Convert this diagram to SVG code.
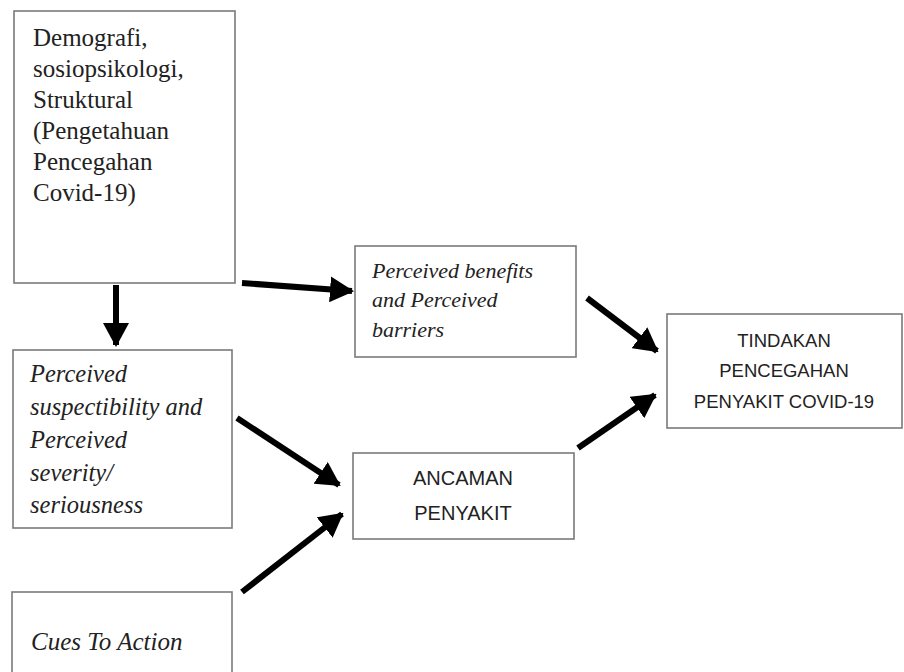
<svg xmlns="http://www.w3.org/2000/svg" width="904" height="672" viewBox="0 0 904 672">
<style>
.box{fill:#fff;stroke:#7a7a7a;stroke-width:1.6}
.serif{font-family:"Liberation Serif","Times New Roman",serif;fill:#222}
.it{font-style:italic}
.sans{font-family:"Liberation Sans",Arial,sans-serif;fill:#222;text-anchor:middle}
.arr{stroke:#000;stroke-width:6;fill:none;marker-end:url(#ah)}
</style>
<defs>
<marker id="ah" markerUnits="userSpaceOnUse" markerWidth="24" markerHeight="26" refX="22" refY="13" orient="auto">
<path d="M0,0 L24,13 L0,26 z" fill="#000"/>
</marker>
</defs>
<rect x="0" y="0" width="904" height="672" fill="#fff"/>
<g id="connectors">
<line class="arr" x1="116" y1="285" x2="116" y2="345"/>
<line class="arr" x1="242" y1="283" x2="352" y2="291"/>
<line class="arr" x1="587" y1="298" x2="657" y2="351"/>
<line class="arr" x1="578" y1="448" x2="655" y2="395"/>
<line class="arr" x1="237" y1="418" x2="339" y2="485"/>
<line class="arr" x1="242" y1="592" x2="342" y2="514"/>
</g>
<g id="demografi">
<rect class="box" x="14" y="11" width="221" height="272"/>
<text class="serif" font-size="25"><tspan x="33" y="46">Demografi,</tspan><tspan x="33" y="77">sosiopsikologi,</tspan><tspan x="33" y="108">Struktural</tspan><tspan x="33" y="139">(Pengetahuan</tspan><tspan x="33" y="170">Pencegahan</tspan><tspan x="33" y="201">Covid-19)</tspan></text>
</g>
<g id="susceptibility">
<rect class="box" x="13" y="350" width="219" height="178"/>
<text class="serif it" font-size="24.5"><tspan x="30" y="382">Perceived</tspan><tspan x="30" y="415">suspectibility and</tspan><tspan x="30" y="448">Perceived</tspan><tspan x="30" y="481">severity/</tspan><tspan x="30" y="513">seriousness</tspan></text>
</g>
<g id="benefits">
<rect class="box" x="355" y="246" width="221" height="111"/>
<text class="serif it" font-size="22"><tspan x="372" y="278">Perceived benefits</tspan><tspan x="372" y="307">and Perceived</tspan><tspan x="372" y="337">barriers</tspan></text>
</g>
<g id="tindakan">
<rect class="box" x="667" y="314" width="235" height="114"/>
<text class="sans" font-size="18.5"><tspan x="784" y="347">TINDAKAN</tspan><tspan x="784" y="377">PENCEGAHAN</tspan><tspan x="784" y="408">PENYAKIT COVID-19</tspan></text>
</g>
<g id="ancaman">
<rect class="box" x="353" y="453" width="221" height="86"/>
<text class="sans" font-size="20"><tspan x="463" y="485">ANCAMAN</tspan><tspan x="463" y="520">PENYAKIT</tspan></text>
</g>
<g id="cues">
<rect class="box" x="12" y="592" width="220" height="90"/>
<text class="serif it" font-size="25" x="31" y="650">Cues To Action</text>
</g>
</svg>
